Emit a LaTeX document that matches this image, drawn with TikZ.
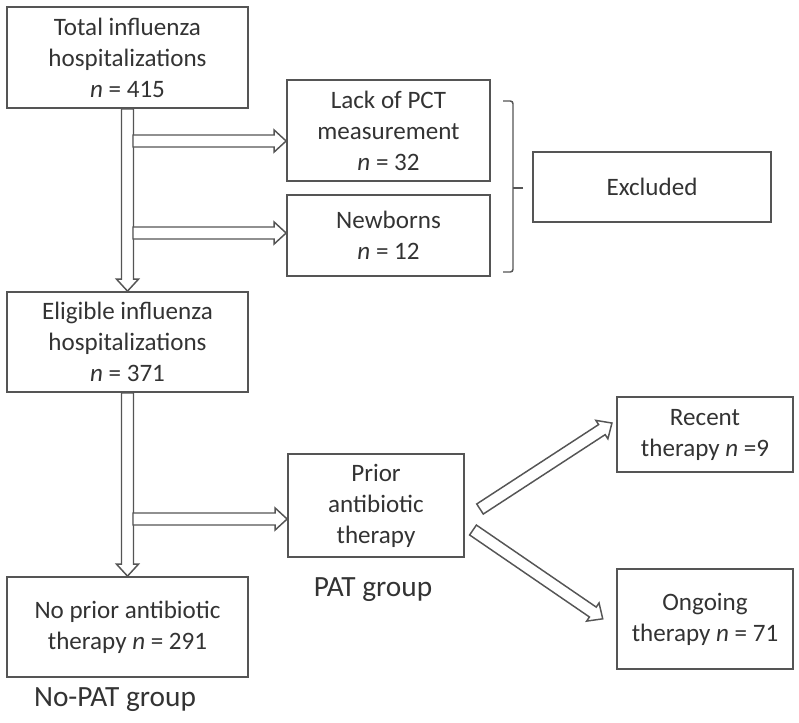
\documentclass[tikz,border=0pt]{standalone}
\usepackage{fontspec}
\setmainfont{Carlito}
\usetikzlibrary{calc}
\definecolor{ln}{HTML}{555555}
\definecolor{tx}{HTML}{333333}
\tikzset{
  box/.style={draw=ln, line width=1.3pt, text=tx, align=center, inner sep=0pt,
    font=\fontsize{18.8}{23.25}\selectfont},
  wh/.style 2 args={minimum width=#1*0.75pt, minimum height=#2*0.75pt},
  lbl/.style={text=tx, inner sep=0pt, font=\fontsize{22}{26}\selectfont},
  harrow/.style={draw=ln, fill=white, line width=1.1pt, line join=miter},
  brk/.style={draw=ln, line width=1.1pt}
}
\newcommand\hollowarrow[2]{%
  \path let \p1=(#1), \p2=(#2), \n1={atan2(\y2-\y1,\x2-\x1)}, \n2={veclen(\x2-\x1,\y2-\y1)} in
    \pgfextra{\xdef\harrang{\n1}\xdef\harrlen{\n2}};
  \draw[harrow, shift={(#1)}, rotate=\harrang]
    (0pt,-4.5pt) -- ({\harrlen-9pt},-4.5pt) -- ({\harrlen-9pt},-8.25pt)
    -- (\harrlen,0pt) -- ({\harrlen-9pt},8.25pt) -- ({\harrlen-9pt},4.5pt)
    -- (0pt,4.5pt) -- cycle;}
\begin{document}
\begin{tikzpicture}[x=0.75pt,y=-0.75pt]
\useasboundingbox (0,0) rectangle (799,722);

\node[box, wh={241}{101}] (tot) at (127.5,57.5) {Total influenza\\hospitalizations\\\textit{n} = 415};
\node[box, wh={203}{101}] (lack) at (388.5,130.5) {Lack of PCT\\measurement\\\textit{n} = 32};
\node[box, wh={203}{81}] (newb) at (388.5,235.5) {Newborns\\\textit{n} = 12};
\node[box, wh={238}{70}] (excl) at (652,187) {Excluded};
\node[box, wh={241}{100}] (elig) at (127.5,342) {Eligible influenza\\hospitalizations\\\textit{n} = 371};
\node[box, wh={176}{103}] (prior) at (376,505.5) {Prior\\antibiotic\\therapy};
\node[box, wh={176}{75}] (recent) at (705,434.5) {Recent\\therapy \textit{n} =9};
\node[box, wh={176}{100}] (ongo) at (705,619) {Ongoing\\therapy \textit{n} = 71};
\node[box, wh={241}{100}] (nopr) at (127.5,627) {No prior antibiotic\\therapy \textit{n} = 291};
\node[lbl] (pat) at (373,590) {PAT group};
\node[lbl] (nopat) at (115,700) {No-PAT group};

% vertical arrows
\hollowarrow{tot.south}{elig.north}
\hollowarrow{elig.south}{nopr.north}

% horizontal arrows
\coordinate (h1) at (133,141);
\coordinate (h2) at (133,233);
\coordinate (h3) at (133,519);
\hollowarrow{h1}{lack.west |- h1}
\hollowarrow{h2}{newb.west |- h2}
\hollowarrow{h3}{prior.west |- h3}

% diagonal arrows
\coordinate (d1) at (480,509);
\coordinate (d1e) at (612,423);
\coordinate (d2) at (473,530);
\coordinate (d2e) at (603,619);
\hollowarrow{d1}{d1e}
\hollowarrow{d2}{d2e}

% bracket
\coordinate (bt) at (503,101);
\coordinate (bb) at (503,272);
\coordinate (bm) at (523,188);
\draw[brk, rounded corners=2pt] (bt) -- ++(10,0) -- ++(0,171) -- (bb);
\draw[brk] (bm) -- ++(-10,0);
\end{tikzpicture}
\end{document}
